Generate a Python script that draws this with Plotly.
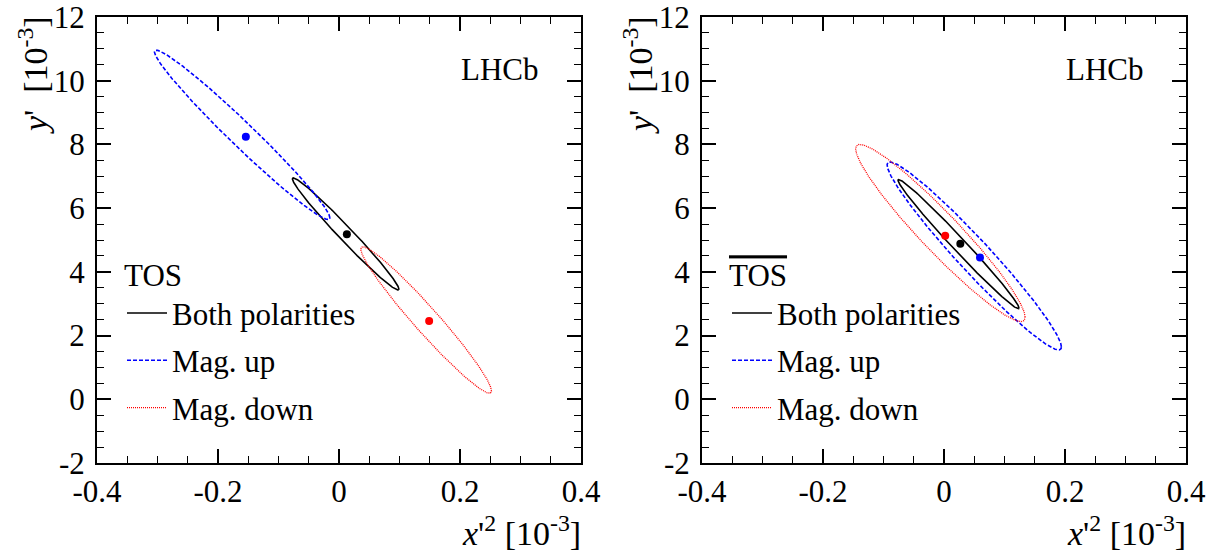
import numpy as np
import plotly.graph_objects as go

# ---------------- data (units of 10^-3) ----------------
series_names = ["Both polarities", "Mag. up", "Mag. down"]
series_colors = ["#000000", "#0000FF", "#FF0000"]

# contour ellipses: centre, sigma_x, sigma_y, correlation
left_cx = [0.011, -0.160, 0.144]
left_cy = [5.19, 8.30, 2.49]
left_sx = [0.088, 0.145, 0.108]
left_sy = [1.76, 2.66, 2.30]
left_rho = [-0.984, -0.980, -0.968]
# best-fit points
left_px = [0.013, -0.154, 0.149]
left_py = [5.18, 8.24, 2.46]

right_cx = [0.024, 0.050, -0.006]
right_cy = [4.87, 4.50, 5.22]
right_sx = [0.100, 0.144, 0.140]
right_sy = [2.03, 2.95, 2.78]
right_rho = [-0.989, -0.968, -0.950]
right_px = [0.027, 0.0595, 0.002]
right_py = [4.88, 4.45, 5.13]

x_ticks = [-0.4, -0.2, 0.0, 0.2, 0.4]
x_ticklabels = ["-0.4", "-0.2", "0", "0.2", "0.4"]
y_ticks = [-2, 0, 2, 4, 6, 8, 10, 12]
y_ticklabels = ["-2", "0", "2", "4", "6", "8", "10", "12"]

W, H = 1225, 554
FONT = "Liberation Serif"
dashes = ["solid", "4px,2px", "1px,1px"]
widths = [1.6, 1.6, 1.3]

fig = go.Figure()
t = np.linspace(0, 2 * np.pi, 400)

panels = [
    ("x", "y", "legend", left_cx, left_cy, left_sx, left_sy, left_rho, left_px, left_py),
    ("x2", "y2", "legend2", right_cx, right_cy, right_sx, right_sy, right_rho, right_px, right_py),
]
for xa, ya, lg, cx, cy, sx, sy, rho, px, py in panels:
    for i in range(3):
        ex = cx[i] + sx[i] * np.cos(t)
        ey = cy[i] + sy[i] * (rho[i] * np.cos(t) + np.sqrt(1 - rho[i] ** 2) * np.sin(t))
        fig.add_trace(go.Scatter(
            x=ex, y=ey, mode="lines", name=series_names[i],
            line=dict(color=series_colors[i], width=widths[i], dash=dashes[i]),
            xaxis=xa, yaxis=ya, legend=lg, legendgroup=lg + str(i),
            hoverinfo="skip"))
    for i in range(3):
        fig.add_trace(go.Scatter(
            x=[px[i]], y=[py[i]], mode="markers",
            marker=dict(color=series_colors[i], size=8),
            xaxis=xa, yaxis=ya, showlegend=False, hoverinfo="skip"))

x_dom = [[97 / W, 581 / W], [702 / W, 1186 / W]]
y_dom = [1 - 463 / H, 1 - 17 / H]

def xaxis(dom, anchor):
    return dict(domain=dom, anchor=anchor, range=[-0.4, 0.4], automargin=False,
                tickmode="array", tickvals=x_ticks, ticktext=x_ticklabels,
                ticks="inside", ticklen=14, tickwidth=1.6, tickcolor="black",
                minor=dict(ticks="inside", ticklen=7, tickwidth=1.4, dtick=0.05,
                           tick0=-0.4, tickcolor="black", showgrid=False),
                mirror="allticks", showline=True, linewidth=2, linecolor="black",
                showgrid=False, zeroline=False, ticklabelstandoff=0,
                ticklabeloverflow="allow",
                tickfont=dict(family=FONT, size=31, color="black"))

def yaxis(anchor):
    return dict(domain=y_dom, anchor=anchor, range=[-2, 12], automargin=False,
                tickmode="array", tickvals=y_ticks, ticktext=y_ticklabels,
                ticks="inside", ticklen=14, tickwidth=1.6, tickcolor="black",
                minor=dict(ticks="inside", ticklen=7, tickwidth=1.4, dtick=0.5,
                           tick0=-2, tickcolor="black", showgrid=False),
                mirror="allticks", showline=True, linewidth=2, linecolor="black",
                showgrid=False, zeroline=False, ticklabelstandoff=4,
                ticklabeloverflow="allow",
                tickfont=dict(family=FONT, size=31, color="black"))

legend_common = dict(
    xanchor="left", yanchor="top", bgcolor="rgba(0,0,0,0)", borderwidth=0,
    font=dict(family=FONT, size=31, color="black"),
    tracegroupgap=4, itemwidth=40)

fig.update_layout(
    width=W, height=H, margin=dict(l=0, r=0, t=0, b=0, autoexpand=False),
    paper_bgcolor="white", plot_bgcolor="white",
    font=dict(family=FONT, color="black"),
    xaxis=xaxis(x_dom[0], "y"), yaxis=yaxis("x"),
    xaxis2=xaxis(x_dom[1], "y2"), yaxis2=yaxis("x2"),
    legend=dict(x=122 / W, y=1 - 246 / H,
                title=dict(text="TOS", font=dict(family=FONT, size=31)),
                **legend_common),
    legend2=dict(x=(122 + 605) / W, y=1 - 246 / H,
                 title=dict(text="<span style='text-decoration:overline'>TOS</span>",
                            font=dict(family=FONT, size=31)),
                 **legend_common),
)

ann_font = dict(family=FONT, size=31, color="black")
title_font = dict(family=FONT, size=34, color="black")
for off in [0, 605]:
    fig.add_annotation(text="LHCb", x=(459 + off) / W, y=1 - 69 / H, xref="paper", yref="paper",
                       xanchor="left", yanchor="middle", showarrow=False, font=ann_font)
    fig.add_annotation(text="<i>x</i>'<sup>2</sup>\u00a0[10<sup>-3</sup>]", x=(583 + off) / W,
                       y=1 - 531 / H, xref="paper", yref="paper",
                       xanchor="right", yanchor="middle", showarrow=False, font=title_font)
    fig.add_annotation(text="<i>y</i>'\u00a0\u00a0[10<sup>-3</sup>]", x=(33 + off) / W, y=1 - 14 / H,
                       xref="paper", yref="paper", textangle=-90,
                       xanchor="center", yanchor="top", showarrow=False, font=title_font)

fig.write_html("out.html")
